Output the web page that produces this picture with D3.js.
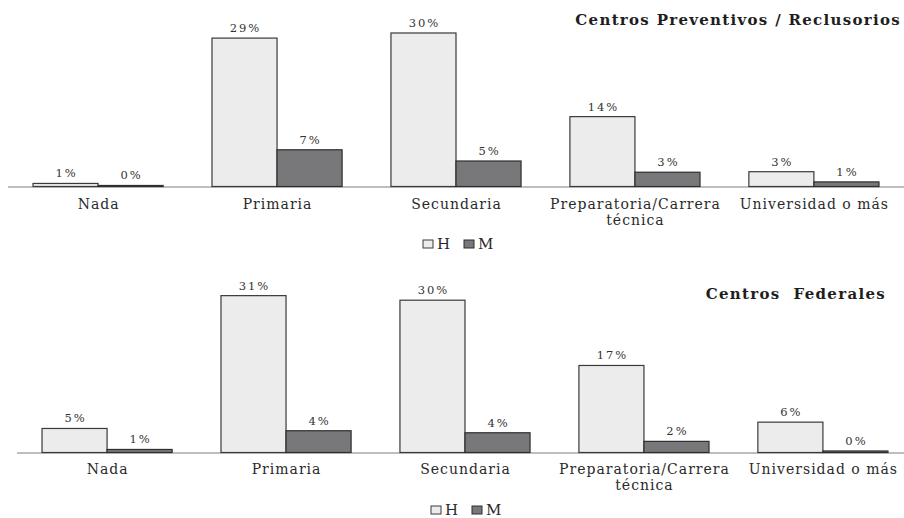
<!DOCTYPE html>
<html><head><meta charset="utf-8">
<script src="https://cdn.jsdelivr.net/npm/d3@7"></script>
<style>
html,body{margin:0;padding:0;background:#fff;}
svg{display:block;}
text{white-space:pre;}
</style></head>
<body>
<svg id="chart" width="904" height="518"></svg>
<script>
const categories = ["Nada", "Primaria", "Secundaria", "Preparatoria/Carrera técnica", "Universidad o más"];
const series = ["H", "M"];
const titles = ["Centros Preventivos / Reclusorios", "Centros  Federales"];
// values (labels show rounded values)
const preventivosH = [0.6, 29.1, 30.1, 13.7, 2.9];
const preventivosM = [0.2, 7.2, 5.0, 2.8, 0.9];
const federalesH = [4.75, 31.0, 30.1, 17.2, 6.0];
const federalesM = [0.6, 4.3, 3.9, 2.2, 0.3];

const colors = {H: "#ececec", M: "#78787a"};
const strokes = {H: "#3a3a3a", M: "#2e2e2e"};

const svg = d3.select("#chart");

function panel(cfg) {
  const g = svg.append("g");
  const x0 = d3.scaleBand().domain(categories).range([cfg.x0, cfg.x1]).paddingInner(0.273).paddingOuter(0.1365);
  const x1 = d3.scaleBand().domain(series).range([0, x0.bandwidth()]).padding(0);
  const y = d3.scaleLinear().domain([0, 35]).range([cfg.base, cfg.base - 35 * cfg.pxPer]);
  const data = [];
  categories.forEach((c, i) => {
    data.push({c, s: "H", v: cfg.H[i]});
    data.push({c, s: "M", v: cfg.M[i]});
  });
  g.append("line").attr("x1", cfg.axisX0).attr("x2", 904).attr("y1", cfg.base + 0.5).attr("y2", cfg.base + 0.5)
    .attr("stroke", "#a8a8a8").attr("stroke-width", 1.5);
  g.selectAll("rect.bar").data(data).enter().append("rect").attr("class", "bar")
    .attr("x", d => x0(d.c) + x1(d.s))
    .attr("width", x1.bandwidth())
    .attr("y", d => y(d.v))
    .attr("height", d => y(0) - y(d.v))
    .attr("fill", d => colors[d.s])
    .attr("stroke", d => strokes[d.s])
    .attr("stroke-width", 1.2);
  g.selectAll("text.val").data(data).enter().append("text").attr("class", "val")
    .attr("x", d => x0(d.c) + x1(d.s) + x1.bandwidth() / 2 + 1)
    .attr("y", d => y(d.v) - 6)
    .attr("text-anchor", "middle")
    .attr("font-family", "DejaVu Serif")
    .attr("font-size", 11.5)
    .attr("letter-spacing", 2)
    .attr("fill", "#333")
    .text(d => Math.round(d.v) + "%");
  categories.forEach(c => {
    const cx = x0(c) + x0.bandwidth() / 2;
    const lines = c === "Preparatoria/Carrera técnica" ? ["Preparatoria/Carrera", "técnica"] : [c];
    lines.forEach((l, k) => {
      g.append("text").attr("x", cx + 0.5).attr("y", cfg.catY + k * 16)
        .attr("text-anchor", "middle")
        .attr("font-family", "DejaVu Serif")
        .attr("font-size", 14)
        .attr("letter-spacing", 1)
        .attr("fill", "#2a2a2a")
        .text(l);
    });
  });
  g.append("text").attr("x", cfg.titleX).attr("y", cfg.titleY)
    .attr("text-anchor", "end")
    .attr("font-family", "DejaVu Serif")
    .attr("font-weight", "bold")
    .attr("font-size", 15)
    .attr("letter-spacing", 1.3)
    .attr("fill", "#1e1e1e")
    .text(cfg.title);
  const lg = g.append("g");
  series.forEach((s, i) => {
    const lx = cfg.legX + i * 41;
    lg.append("rect").attr("x", lx).attr("y", cfg.legY - 9).attr("width", 10).attr("height", 8)
      .attr("fill", colors[s]).attr("stroke", strokes[s]).attr("stroke-width", 1);
    lg.append("text").attr("x", lx + 14).attr("y", cfg.legY)
      .attr("font-family", "DejaVu Serif").attr("font-size", 15).attr("fill", "#2a2a2a").text(s);
  });
}

panel({H: preventivosH, M: preventivosM, title: titles[0], x0: 8.6, x1: 903.4, axisX0: 8, base: 186.5, pxPer: 5.1,
  catY: 209, titleX: 901, titleY: 25, legX: 423, legY: 249});
panel({H: federalesH, M: federalesM, title: titles[1], x0: 17.6, x1: 912.4, axisX0: 17, base: 452.5, pxPer: 5.06,
  catY: 474, titleX: 886, titleY: 299, legX: 431, legY: 515});
</script>
</body></html>
